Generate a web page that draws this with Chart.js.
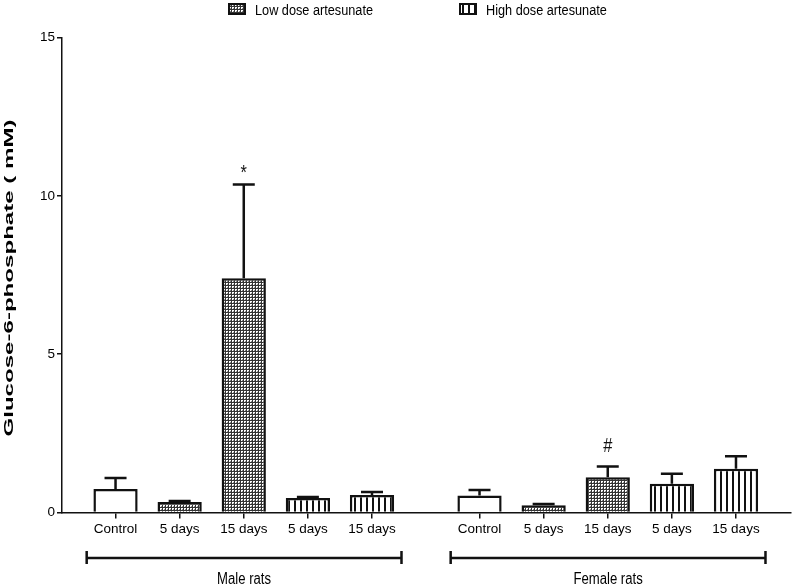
<!DOCTYPE html>
<html><head><meta charset="utf-8">
<script src="https://cdn.jsdelivr.net/npm/chart.js@4.4.1/dist/chart.umd.min.js"></script>
<style>html,body{margin:0;padding:0;background:#fff;}#wrap{width:794px;height:585px;}</style>
</head><body><div id="wrap"><canvas id="c" width="794" height="585"></canvas></div>
<script>
// ---------- data ----------
const categories = ['Control', '5 days', '15 days', '5 days', '15 days'];
const treatments = ['control', 'low', 'low', 'high', 'high'];
const groups = ['Male rats', 'Female rats'];
const maleMeans = [0.74, 0.33, 7.40, 0.46, 0.55];
const maleSD = [0.35, 0.03, 2.96, 0.03, 0.10];
const femaleMeans = [0.54, 0.23, 1.11, 0.91, 1.38];
const femaleSD = [0.17, 0.04, 0.34, 0.31, 0.40];
const maleMarks = ['', '', '*', '', ''];
const femaleMarks = ['', '', '#', '', ''];
const yTicks = [0, 5, 10, 15];
const seriesNames = { control: 'Control', low: 'Low dose artesunate', high: 'High dose artesunate' };
const legendSeries = ['low', 'high'];
const yTitle = 'Glucose-6-phosphate ( mM)';

// ---------- fonts ----------
function hasFont(name) {
  const c = document.createElement('canvas').getContext('2d');
  c.font = '20px monospace';
  const a = c.measureText('Control 15 days').width;
  c.font = '20px "' + name + '", monospace';
  return c.measureText('Control 15 days').width !== a;
}
const NARROW = hasFont('Liberation Sans Narrow');
const FAM = NARROW ? '"Liberation Sans Narrow", "Liberation Sans", sans-serif' : '"Liberation Sans", Arial, sans-serif';
const SQUEEZE = NARROW ? 1 : 0.82;          // horizontal squeeze used for hand-drawn text
const TICK_SIZE = NARROW ? 15 : 13.5;
const tickFont = { family: FAM, size: TICK_SIZE };

function condensedText(ctx, text, x, y, size, align, weight) {
  ctx.save();
  ctx.font = (weight || '') + ' ' + size + 'px ' + FAM;
  ctx.translate(x, y);
  ctx.scale(SQUEEZE, 1);
  ctx.textAlign = align || 'center';
  ctx.textBaseline = 'alphabetic';
  ctx.fillText(text, 0, 0);
  ctx.restore();
}

// ---------- layout helpers ----------
const GROUP_GAP = 0.677;
const pos = (g, i) => g * (categories.length + GROUP_GAP) + i;
const means = [maleMeans, femaleMeans];
const sds = [maleSD, femaleSD];
const marks = [maleMarks, femaleMarks];
const tickPositions = [];
const tickLabels = [];
groups.forEach((g, gi) => categories.forEach((c, i) => { tickPositions.push(pos(gi, i)); tickLabels.push(c); }));

// ---------- patterns ----------
function makePattern(kind) {
  const p = document.createElement('canvas');
  const ctx = p.getContext('2d');
  if (kind === 'low') {
    p.width = 3; p.height = 3;
    ctx.fillStyle = '#ffffff'; ctx.fillRect(0, 0, 3, 3);
    ctx.fillStyle = '#333333';
    ctx.fillRect(0, 0, 3, 1); ctx.fillRect(0, 0, 1, 3);
    ctx.fillStyle = '#8a8a8a'; ctx.fillRect(2, 2, 1, 1);
  } else if (kind === 'high') {
    p.width = 6; p.height = 4;
    ctx.fillStyle = '#ffffff'; ctx.fillRect(0, 0, 6, 4);
    ctx.fillStyle = '#111111'; ctx.fillRect(0, 0, 2, 4);
  } else {
    p.width = 2; p.height = 2;
    ctx.fillStyle = '#ffffff'; ctx.fillRect(0, 0, 2, 2);
  }
  return document.getElementById('c').getContext('2d').createPattern(p, 'repeat');
}
const fills = { control: '#ffffff', low: makePattern('low'), high: makePattern('high') };

// ---------- datasets ----------
const datasets = Object.keys(seriesNames).map(t => {
  const data = [];
  groups.forEach((g, gi) => categories.forEach((c, i) => {
    if (treatments[i] === t) data.push({ x: pos(gi, i), y: means[gi][i], sd: sds[gi][i], mark: marks[gi][i] });
  }));
  return {
    label: seriesNames[t], key: t, data,
    backgroundColor: fills[t], borderColor: '#111', borderWidth: 2.5,
    grouped: false, categoryPercentage: 1, barPercentage: 0.69
  };
});

// ---------- plugins ----------
const extras = {
  id: 'extras',
  afterDatasetsDraw(chart) {
    const ctx = chart.ctx, ys = chart.scales.y;
    ctx.save();
    ctx.strokeStyle = '#111'; ctx.lineWidth = 2.5; ctx.fillStyle = '#111';
    chart.data.datasets.forEach((ds, di) => {
      const meta = chart.getDatasetMeta(di);
      meta.data.forEach((el, j) => {
        const r = ds.data[j];
        const top = ys.getPixelForValue(r.y + r.sd);
        ctx.beginPath();
        ctx.moveTo(el.x, el.y); ctx.lineTo(el.x, top);
        ctx.moveTo(el.x - 11, top); ctx.lineTo(el.x + 11, top);
        ctx.stroke();
        if (r.mark === '*') condensedText(ctx, r.mark, el.x, top - 5, 20, 'center');
        else if (r.mark) condensedText(ctx, r.mark, el.x, top - 15, 20, 'center');
      });
    });
    ctx.restore();
  },
  afterDraw(chart) {
    const ctx = chart.ctx, xs = chart.scales.x, ca = chart.chartArea;
    ctx.save();
    // group brackets
    ctx.strokeStyle = '#111'; ctx.lineWidth = 2.5; ctx.fillStyle = '#000';
    groups.forEach((g, gi) => {
      const x1 = xs.getPixelForValue(pos(gi, 0) - 0.45);
      const x2 = xs.getPixelForValue(pos(gi, categories.length - 1) + 0.46);
      const y = 558;
      ctx.beginPath();
      ctx.moveTo(x1, y); ctx.lineTo(x2, y);
      ctx.moveTo(x1, y - 7); ctx.lineTo(x1, y + 6);
      ctx.moveTo(x2, y - 7); ctx.lineTo(x2, y + 6);
      ctx.stroke();
      condensedText(ctx, g, (x1 + x2) / 2, 584, 16, 'center');
    });
    // legend
    const lx = [228, 459];
    legendSeries.forEach((t, k) => {
      const x = lx[k], y = 3;
      ctx.fillStyle = fills[t]; ctx.fillRect(x, y, 18, 12);
      ctx.lineWidth = 2; ctx.strokeStyle = '#111'; ctx.strokeRect(x + 1, y + 1, 16, 10);
      ctx.fillStyle = '#000';
      condensedText(ctx, seriesNames[t], x + 27, 15, 15.5, 'left');
    });
    // y title (stretched as in reference)
    ctx.font = 'bold 13px "Liberation Sans", Arial, sans-serif';
    const w = ctx.measureText(yTitle).width;
    ctx.translate(9, (ca.top + ca.bottom) / 2 + 3);
    ctx.rotate(-Math.PI / 2);
    ctx.scale(317 / w, 1);
    ctx.textAlign = 'center'; ctx.textBaseline = 'middle'; ctx.fillStyle = '#000';
    ctx.fillText(yTitle, 0, 0);
    ctx.restore();
  }
};

new Chart(document.getElementById('c'), {
  type: 'bar',
  data: { datasets },
  options: {
    responsive: false, animation: false, devicePixelRatio: 1,
    layout: { padding: { top: 37.5, right: 3, left: 0, bottom: 0 } },
    plugins: { legend: { display: false }, tooltip: { enabled: false } },
    scales: {
      x: {
        type: 'linear', offset: false,
        min: -0.835, max: 10.535,
        afterBuildTicks: s => { s.ticks = tickPositions.map(v => ({ value: v })); },
        afterFit: s => { s.height = 72.5; },
        ticks: { callback: (v, i) => tickLabels[i], font: tickFont, color: '#000', padding: 3, autoSkip: false, maxRotation: 0 },
        grid: { display: true, offset: false, drawOnChartArea: false, drawTicks: true, tickLength: 6, color: '#111', lineWidth: 1.5 },
        border: { display: true, color: '#111', width: 1.5 }
      },
      y: {
        min: 0, max: 15,
        afterBuildTicks: s => { s.ticks = yTicks.map(v => ({ value: v })); },
        afterFit: s => { s.width = 62; },
        ticks: { font: tickFont, color: '#000', padding: 2 },
        grid: { display: true, drawOnChartArea: false, drawTicks: true, tickLength: 5, color: '#111', lineWidth: 1.5 },
        border: { display: true, color: '#111', width: 1.5 }
      }
    }
  },
  plugins: [extras]
});
</script></body></html>
